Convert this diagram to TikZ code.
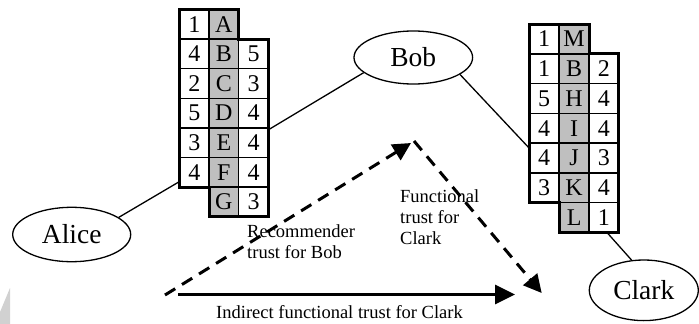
\documentclass[tikz,border=0pt]{standalone}
\usepackage{fontspec}
\setmainfont{Liberation Serif}
\usetikzlibrary{arrows.meta,shapes.geometric}
\newcommand{\namefont}{\fontsize{27.5}{30}\selectfont}
\newcommand{\tabfont}{\fontsize{24}{26}\selectfont}
\newcommand{\labfont}{\fontsize{18.5}{21}\selectfont}
\begin{document}
\begin{tikzpicture}[x=1pt,y=-1pt,
  cell/.style={draw=black, line width=1.5pt, minimum width=29.6pt, minimum height=29.6pt, inner sep=0pt, outer sep=0pt, font=\tabfont},
  gcell/.style={cell, fill=black!25},
  outline/.style={draw=black, line width=3pt, line join=miter},
  person/.style={ellipse, draw=black, line width=1.3pt, inner sep=0pt, font=\namefont},
  link/.style={draw=black, line width=1.3pt},
  dasharrow/.style={draw=black, line width=3pt, dash pattern=on 12pt off 8pt, -{Triangle[length=18pt,width=18pt]}},
  solidarrow/.style={draw=black, line width=3pt, -{Triangle[length=20pt,width=19pt]}},
  lab/.style={inner sep=0pt, font=\labfont, align=left}
]
\useasboundingbox (0,0) rectangle (699,324);
\fill[black!18] (0,312) -- (10,288) -- (10,324) -- (0,324) -- cycle;

% left table
\foreach \t [count=\r from 0] in {1,4,2,5,3,4}
  \node[cell] (L-\r-0) at (194.3,{24.3+29.6*\r}) {\t};
\foreach \t [count=\r from 0] in {A,B,C,D,E,F,G}
  \node[gcell] (L-\r-1) at (223.9,{24.3+29.6*\r}) {\t};
\foreach \t [count=\r from 1] in {5,3,4,4,4,3}
  \node[cell] (L-\r-2) at (253.5,{24.3+29.6*\r}) {\t};
\draw[outline] (L-0-0.north west) -- (L-0-1.north east) -- (L-0-1.south east) -- (L-1-2.north east) -- (L-6-2.south east) -- (L-6-1.south west) -- (L-6-1.north west) -- (L-5-0.south west) -- cycle;

% right table
\foreach \t [count=\r from 0] in {1,1,5,4,4,3}
  \node[cell, minimum width=29.85pt, minimum height=29.75pt] (R-\r-0) at (544.2,{38.9+29.75*\r}) {\t};
\foreach \t [count=\r from 0] in {M,B,H,I,J,K,L}
  \node[gcell, minimum width=29.85pt, minimum height=29.75pt] (R-\r-1) at (574.1,{38.9+29.75*\r}) {\t};
\foreach \t [count=\r from 1] in {2,4,4,3,4,1}
  \node[cell, minimum width=29.85pt, minimum height=29.75pt] (R-\r-2) at (603.9,{38.9+29.75*\r}) {\t};
\draw[outline] (R-0-0.north west) -- (R-0-1.north east) -- (R-0-1.south east) -- (R-1-2.north east) -- (R-6-2.south east) -- (R-6-1.south west) -- (R-6-1.north west) -- (R-5-0.south west) -- cycle;

% people
\node[person, minimum width=118pt, minimum height=54.4pt] (Alice) at (71.7,234.5) {Alice};
\node[person, minimum width=118.6pt, minimum height=53pt] (Bob) at (413.3,57.5) {Bob};
\node[person, minimum width=109pt, minimum height=60.6pt] (Clark) at (643.8,290.3) {Clark};

% links
\draw[link] (Alice.20) -- (L-5-0.212);
\draw[link] (L-4-2.41) -- (Bob.197);
\draw[link] (Bob.-20) -- (R-4-0.147);
\draw[link] (R-6-2.-79) -- (Clark.112);

% trust arrows
\coordinate (ds) at (165,295);
\coordinate (apex) at (411,143);
\coordinate (fs) at (414,141);
\coordinate (fe) at (541.7,293);
\coordinate (ss) at (178,294.5);
\coordinate (se) at (515,294.5);
\draw[dasharrow] (ds) -- (apex);
\draw[dasharrow] (fs) -- (fe);
\draw[solidarrow] (ss) -- (se);

% labels
\node[lab, anchor=north west] (recl) at (247,224.4) {Recommender\\trust for Bob};
\node[lab, anchor=north west] (funl) at (400,189) {Functional\\trust for\\Clark};
\node[lab, anchor=base west] (indl) at (216,318) {Indirect functional trust for Clark};
\end{tikzpicture}
\end{document}
